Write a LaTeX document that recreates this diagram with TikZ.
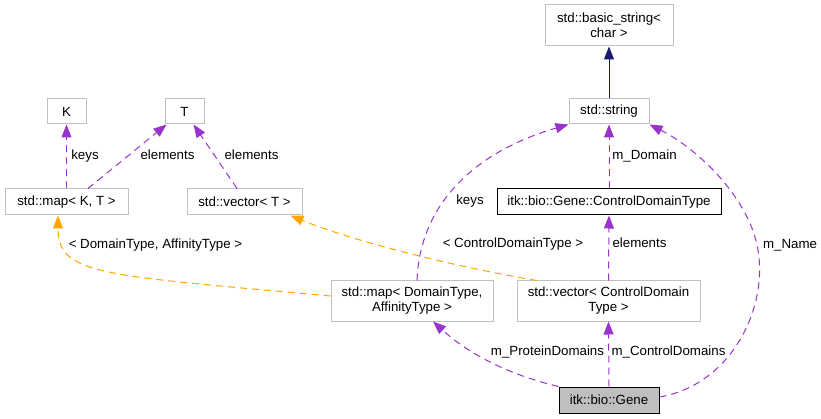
\documentclass[tikz,border=0pt]{standalone}
\usepackage{fontspec}
\setmainfont{Liberation Sans}
\usetikzlibrary{arrows.meta}
\definecolor{edgep}{HTML}{9A32CD}
\definecolor{edgeo}{HTML}{FFA500}
\definecolor{edgen}{HTML}{191970}
\definecolor{boxg}{HTML}{BFBFBF}
\begin{document}
\begin{tikzpicture}[x=1pt,y=-1pt,
  font=\fontsize{13.3}{15}\selectfont,
  box/.style={draw=boxg, line width=1pt, fill=white, inner sep=0pt, align=center},
  hbox/.style={box, draw=black},
  lbl/.style={inner sep=0pt, anchor=mid},
  tip/.style={-{Triangle[length=13pt,width=10pt]}},
  dep/.style={draw=edgep, line width=1pt, dash pattern=on 7pt off 5pt, tip},
  tpl/.style={draw=edgeo, line width=1pt, dash pattern=on 7pt off 5pt, tip},
  inh/.style={draw=edgen, line width=1pt, tip}
]
\useasboundingbox (0,0) rectangle (821,419);
% nodes
\node[box, minimum width=128pt, minimum height=41pt] (bstr) at (609,25.5) {std::basic\_string<\\char >};
\node[box, minimum width=80pt, minimum height=25pt] (str) at (609,111.5) {std::string};
\node[hbox, minimum width=224pt, minimum height=26pt] (cdt) at (609,202) {itk::bio::Gene::ControlDomainType};
\node[box, minimum width=183pt, minimum height=40pt] (vcd) at (608.5,301) {std::vector< ControlDomain\\Type >};
\node[box, minimum width=162pt, minimum height=40pt] (mdt) at (412,301) {std::map< DomainType,\\AffinityType >};
\node[hbox, fill=boxg, minimum width=100pt, minimum height=26pt] (gene) at (609,400) {itk::bio::Gene};
\node[box, minimum width=39pt, minimum height=25pt] (K) at (66.5,111.5) {K};
\node[box, minimum width=39pt, minimum height=25pt] (T) at (184.5,111.5) {T};
\node[box, minimum width=123pt, minimum height=26pt] (mkt) at (66.5,202) {std::map< K, T >};
\node[box, minimum width=115pt, minimum height=26pt] (vt) at (244.5,202) {std::vector< T >};
% edges
\draw[inh] (str.north) -- (bstr.south);
\draw[dep] (K.south |- mkt.north) -- (K.south);
\draw[dep] ([xshift=21.5pt]mkt.north) -- ([xshift=2pt]T.south west);
\draw[dep] ([xshift=-7.5pt]vt.north) -- ([xshift=-11pt]T.south east);
\draw[dep] ([xshift=5pt]mdt.north) .. controls (420,200) and (480,150) .. (str.south west);
\draw[dep] (cdt.north) -- (str.south);
\draw[dep] ([yshift=3pt]gene.east) .. controls (730,385) and (768,310) .. (758,250)
  .. controls (750,200) and (700,150) .. (str.south east);
\draw[dep] (vcd.north) -- (cdt.south);
\draw[dep] (gene.north) -- (vcd.south);
\draw[dep] (gene.north west) .. controls (510,375) and (470,355) .. ([xshift=21pt]mdt.south);
\draw[tpl] ([yshift=5pt]mdt.west) .. controls (100,275) and (58,275) .. ([xshift=-8.5pt]mkt.south);
\draw[tpl] ([xshift=-71.5pt]vcd.north) .. controls (450,266) and (350,240) .. ([xshift=-12pt]vt.south east);
% labels
\node[lbl] (l1) at (85,157) {keys};
\node[lbl] (l2) at (167.5,157) {elements};
\node[lbl] (l3) at (251.5,157) {elements};
\node[lbl] (l4) at (470,202) {keys};
\node[lbl] (l5) at (644.5,157) {m\_Domain};
\node[lbl] (l6) at (639.5,245) {elements};
\node[lbl] (l7) at (513,245) {< ControlDomainType >};
\node[lbl] (l8) at (155.5,246) {< DomainType, AffinityType >};
\node[lbl] (l9) at (547.5,353) {m\_ProteinDomains};
\node[lbl] (l10) at (668.5,353) {m\_ControlDomains};
\node[lbl] (l11) at (790,246) {m\_Name};
\end{tikzpicture}
\end{document}
